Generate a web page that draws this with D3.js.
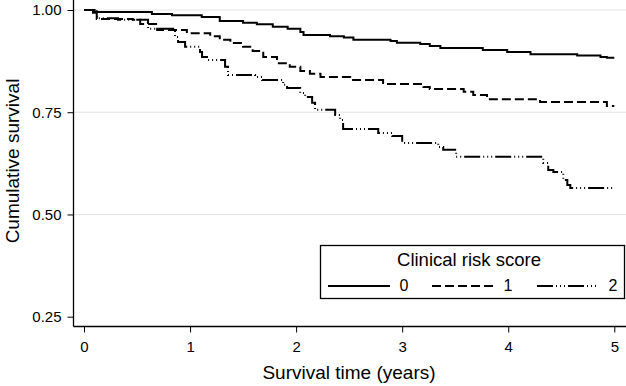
<!DOCTYPE html>
<html>
<head>
<meta charset="utf-8">
<script src="https://cdn.jsdelivr.net/npm/d3@7"></script>
<style>
  body { margin: 0; background: #fff; }
  svg { display: block; font-family: "Liberation Sans", Arial, sans-serif; }
</style>
</head>
<body>
<div id="chart"></div>
<script>
const width = 626;
const height = 386;

// Kaplan-Meier step points (time in years, cumulative survival)
const time0 = [0, 0.10, 0.64, 0.83, 1.11, 1.28, 1.50, 1.63, 1.78, 1.92, 2.04, 2.07, 2.32, 2.45, 2.54, 2.89, 2.95, 3.17, 3.26, 3.36, 3.76, 3.99, 4.21, 4.65, 4.87, 4.93, 5.0];
const surv0 = [1.0, 0.995, 0.990, 0.987, 0.983, 0.973, 0.969, 0.965, 0.959, 0.954, 0.946, 0.939, 0.936, 0.933, 0.927, 0.924, 0.920, 0.917, 0.912, 0.907, 0.902, 0.897, 0.892, 0.889, 0.885, 0.883, 0.883];

const time1 = [0, 0.12, 0.46, 0.53, 0.69, 0.97, 1.19, 1.28, 1.38, 1.50, 1.59, 1.69, 1.82, 1.94, 2.04, 2.13, 2.23, 2.51, 2.82, 3.20, 3.26, 3.58, 3.67, 3.80, 4.30, 4.93, 5.0];
const surv1 = [1.0, 0.978, 0.976, 0.966, 0.951, 0.943, 0.936, 0.927, 0.919, 0.910, 0.900, 0.885, 0.870, 0.861, 0.851, 0.844, 0.836, 0.829, 0.819, 0.812, 0.807, 0.800, 0.792, 0.782, 0.775, 0.765, 0.765];

const time2 = [0, 0.085, 0.123, 0.321, 0.604, 0.858, 0.887, 0.953, 1.094, 1.113, 1.160, 1.330, 1.358, 1.613, 1.679, 1.877, 1.915, 2.038, 2.085, 2.151, 2.179, 2.368, 2.415, 2.443, 2.774, 2.906, 3.0, 3.340, 3.387, 3.509, 4.330, 4.377, 4.425, 4.519, 4.557, 4.585, 5.0];
const surv2 = [1.0, 0.993, 0.980, 0.976, 0.954, 0.934, 0.922, 0.910, 0.897, 0.885, 0.878, 0.861, 0.841, 0.836, 0.829, 0.817, 0.809, 0.797, 0.787, 0.773, 0.756, 0.743, 0.731, 0.709, 0.699, 0.692, 0.675, 0.665, 0.658, 0.641, 0.626, 0.609, 0.604, 0.584, 0.572, 0.565, 0.565];

const groups = ["0", "1", "2"];
const xTicks = [0, 1, 2, 3, 4, 5];
const yTicks = [0.25, 0.50, 0.75, 1.00];
const gridTicks = [0.50, 0.75, 1.00];

const series = [
    { name: groups[0], points: time0.map((t, i) => [t, surv0[i]]), dash: null },
    { name: groups[1], points: time1.map((t, i) => [t, surv1[i]]), dash: "9,4" },
    { name: groups[2], points: time2.map((t, i) => [t, surv2[i]]), dash: "16,3,1,3,1,3,1,3" }
];

const axisX = 73.5;   // y axis line position
const axisY = 326.5;  // x axis line position

const x = d3.scaleLinear().domain([0, 5]).range([84, 614.3]);
const y = d3.scaleLinear().domain([0.25, 1]).range([316.7, 10]);

const svg = d3.select("#chart").append("svg")
    .attr("width", width)
    .attr("height", height);

// gridlines
svg.append("g")
    .selectAll("line")
    .data(gridTicks)
    .enter()
    .append("line")
    .attr("x1", axisX)
    .attr("x2", width)
    .attr("y1", d => y(d))
    .attr("y2", d => y(d))
    .attr("stroke", "#e3e3e3")
    .attr("stroke-width", 1);

// y axis
const yAxis = svg.append("g")
    .attr("transform", `translate(${axisX},0)`)
    .call(d3.axisLeft(y).tickValues(yTicks).tickFormat(d3.format(".2f")).tickSize(6).tickPadding(6));
yAxis.select(".domain").remove();
yAxis.selectAll("text").attr("font-size", 15).attr("fill", "#000").attr("font-family", "Liberation Sans, Arial, sans-serif");
yAxis.selectAll("line").attr("stroke", "#000");

// x axis
const xAxis = svg.append("g")
    .attr("transform", `translate(0,${axisY})`)
    .call(d3.axisBottom(x).tickValues(xTicks).tickFormat(d3.format("d")).tickSize(6).tickPadding(9));
xAxis.select(".domain").remove();
xAxis.selectAll("text").attr("font-size", 15).attr("fill", "#000").attr("font-family", "Liberation Sans, Arial, sans-serif");
xAxis.selectAll("line").attr("stroke", "#000");

// axis lines
svg.append("line")
    .attr("x1", axisX).attr("x2", axisX)
    .attr("y1", 0).attr("y2", axisY)
    .attr("stroke", "#000").attr("stroke-width", 1.3);
svg.append("line")
    .attr("x1", axisX).attr("x2", width)
    .attr("y1", axisY).attr("y2", axisY)
    .attr("stroke", "#000").attr("stroke-width", 1.3);

// survival curves
const line = d3.line()
    .x(d => x(d[0]))
    .y(d => y(d[1]))
    .curve(d3.curveStepAfter);

svg.append("g")
    .selectAll("path")
    .data(series)
    .enter()
    .append("path")
    .attr("d", d => line(d.points))
    .attr("fill", "none")
    .attr("stroke", "#000")
    .attr("stroke-width", 2)
    .attr("stroke-dasharray", d => d.dash);

// axis titles
svg.append("text")
    .attr("x", 349)
    .attr("y", 379)
    .attr("text-anchor", "middle")
    .attr("font-size", 19)
    .text("Survival time (years)");

svg.append("text")
    .attr("transform", "translate(19,161) rotate(-90)")
    .attr("text-anchor", "middle")
    .attr("font-size", 19)
    .text("Cumulative survival");

// legend
const legend = svg.append("g");
legend.append("rect")
    .attr("x", 320.5)
    .attr("y", 245.5)
    .attr("width", 304)
    .attr("height", 53)
    .attr("fill", "#fff")
    .attr("stroke", "#000")
    .attr("stroke-width", 1.3);

legend.append("text")
    .attr("x", 469)
    .attr("y", 266)
    .attr("text-anchor", "middle")
    .attr("font-size", 18.5)
    .text("Clinical risk score");

const legendX = [328, 432, 537];
series.forEach((s, i) => {
    legend.append("line")
        .attr("x1", legendX[i])
        .attr("x2", legendX[i] + 62)
        .attr("y1", 286)
        .attr("y2", 286)
        .attr("stroke", "#000")
        .attr("stroke-width", 2)
        .attr("stroke-dasharray", s.dash);
    legend.append("text")
        .attr("x", legendX[i] + 76)
        .attr("y", 291)
        .attr("text-anchor", "middle")
        .attr("font-size", 16)
        .text(s.name);
});
</script>
</body>
</html>
